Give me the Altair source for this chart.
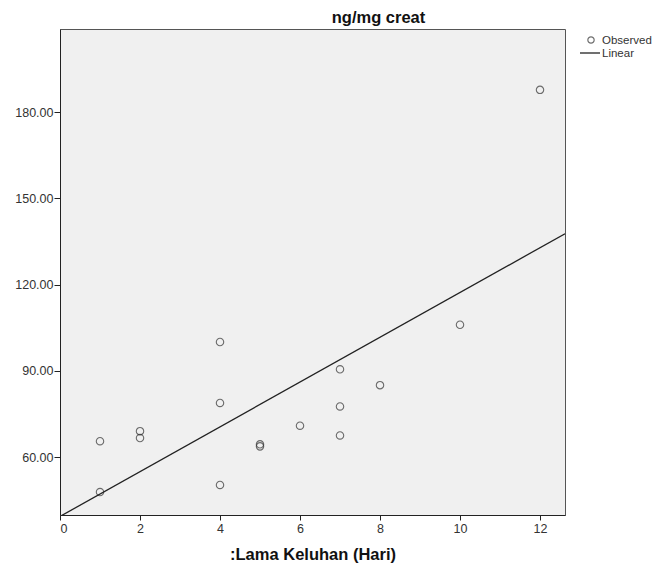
import altair as alt
import pandas as pd

# Data
days = [1, 1, 2, 2, 4, 4, 4, 5, 5, 6, 7, 7, 7, 8, 10, 12]
values = [65.5, 47.8, 69.0, 66.6, 100.0, 78.8, 50.3, 64.4, 63.7, 70.9, 90.5, 77.6, 67.5, 85.0, 106.0, 187.7]
x_ticks = [0, 2, 4, 6, 8, 10, 12]
y_ticks = [60, 90, 120, 150, 180]
legend_labels = ["Observed", "Linear"]

df = pd.DataFrame({"x": days, "y": values})

FONT = "Liberation Sans"
X_DOM = [0, 12.625]
Y_DOM = [39.83, 208.87]

xs = alt.Scale(domain=X_DOM, nice=False, zero=False)
ys = alt.Scale(domain=Y_DOM, nice=False, zero=False)

x_axis = alt.Axis(values=x_ticks, format="d", title=":Lama Keluhan (Hari)",
                  grid=False, tickSize=5, labelPadding=2, titlePadding=12,
                  titleFontSize=16.5, titleFontWeight="bold", titleFont=FONT,
                  titleColor="#111",
                  labelFont=FONT, labelFontSize=12.5, labelColor="#333",
                  domainColor="#222", tickColor="#222")
y_axis = alt.Axis(values=y_ticks, format=".2f", title=None, grid=False,
                  tickSize=6, labelPadding=1, labelFont=FONT, labelFontSize=12.5,
                  labelColor="#333", domainColor="#222", tickColor="#222")

base = alt.Chart(df)

points = base.mark_point(shape="circle", filled=False, color="#333",
                         size=55, strokeWidth=1.1).encode(
    x=alt.X("x:Q", scale=xs, axis=x_axis),
    y=alt.Y("y:Q", scale=ys, axis=y_axis),
)

line = base.transform_regression("x", "y", extent=X_DOM).mark_line(
    color="#222", strokeWidth=1.3, clip=True).encode(
    x=alt.X("x:Q", scale=xs),
    y=alt.Y("y:Q", scale=ys),
)

leg_df = pd.DataFrame({"label": legend_labels})
leg_circle = alt.Chart(leg_df).transform_filter(alt.datum.label == legend_labels[0]).mark_point(
    shape="circle", filled=False, color="#333", size=40, strokeWidth=1.2).encode(
    x=alt.value(531), y=alt.value(11))
leg_rule = alt.Chart(leg_df).transform_filter(alt.datum.label == legend_labels[1]).mark_rule(
    color="#222", strokeWidth=1.3).encode(
    x=alt.value(520), x2=alt.value(540), y=alt.value(24))
leg_text1 = alt.Chart(leg_df).transform_filter(alt.datum.label == legend_labels[0]).mark_text(
    align="left", baseline="middle", font=FONT, fontSize=11.5, color="#333").encode(
    x=alt.value(542), y=alt.value(12), text="label:N")
leg_text2 = alt.Chart(leg_df).transform_filter(alt.datum.label == legend_labels[1]).mark_text(
    align="left", baseline="middle", font=FONT, fontSize=11.5, color="#333").encode(
    x=alt.value(542), y=alt.value(25), text="label:N")

chart = alt.layer(points, line, leg_circle, leg_rule, leg_text1, leg_text2).properties(
    width=505, height=486,
    title=alt.TitleParams("ng/mg creat", font=FONT, fontSize=16.5, fontWeight="bold",
                          color="#111", anchor="middle", dx=66, offset=3),
    padding={"left": 52, "top": 21, "right": 91, "bottom": 52},
    autosize="none",
    background="white",
).configure_view(fill="#f0f0f0", stroke="#555", strokeWidth=1)

chart.save("out.html", embed_options={"renderer": "svg", "actions": False})
